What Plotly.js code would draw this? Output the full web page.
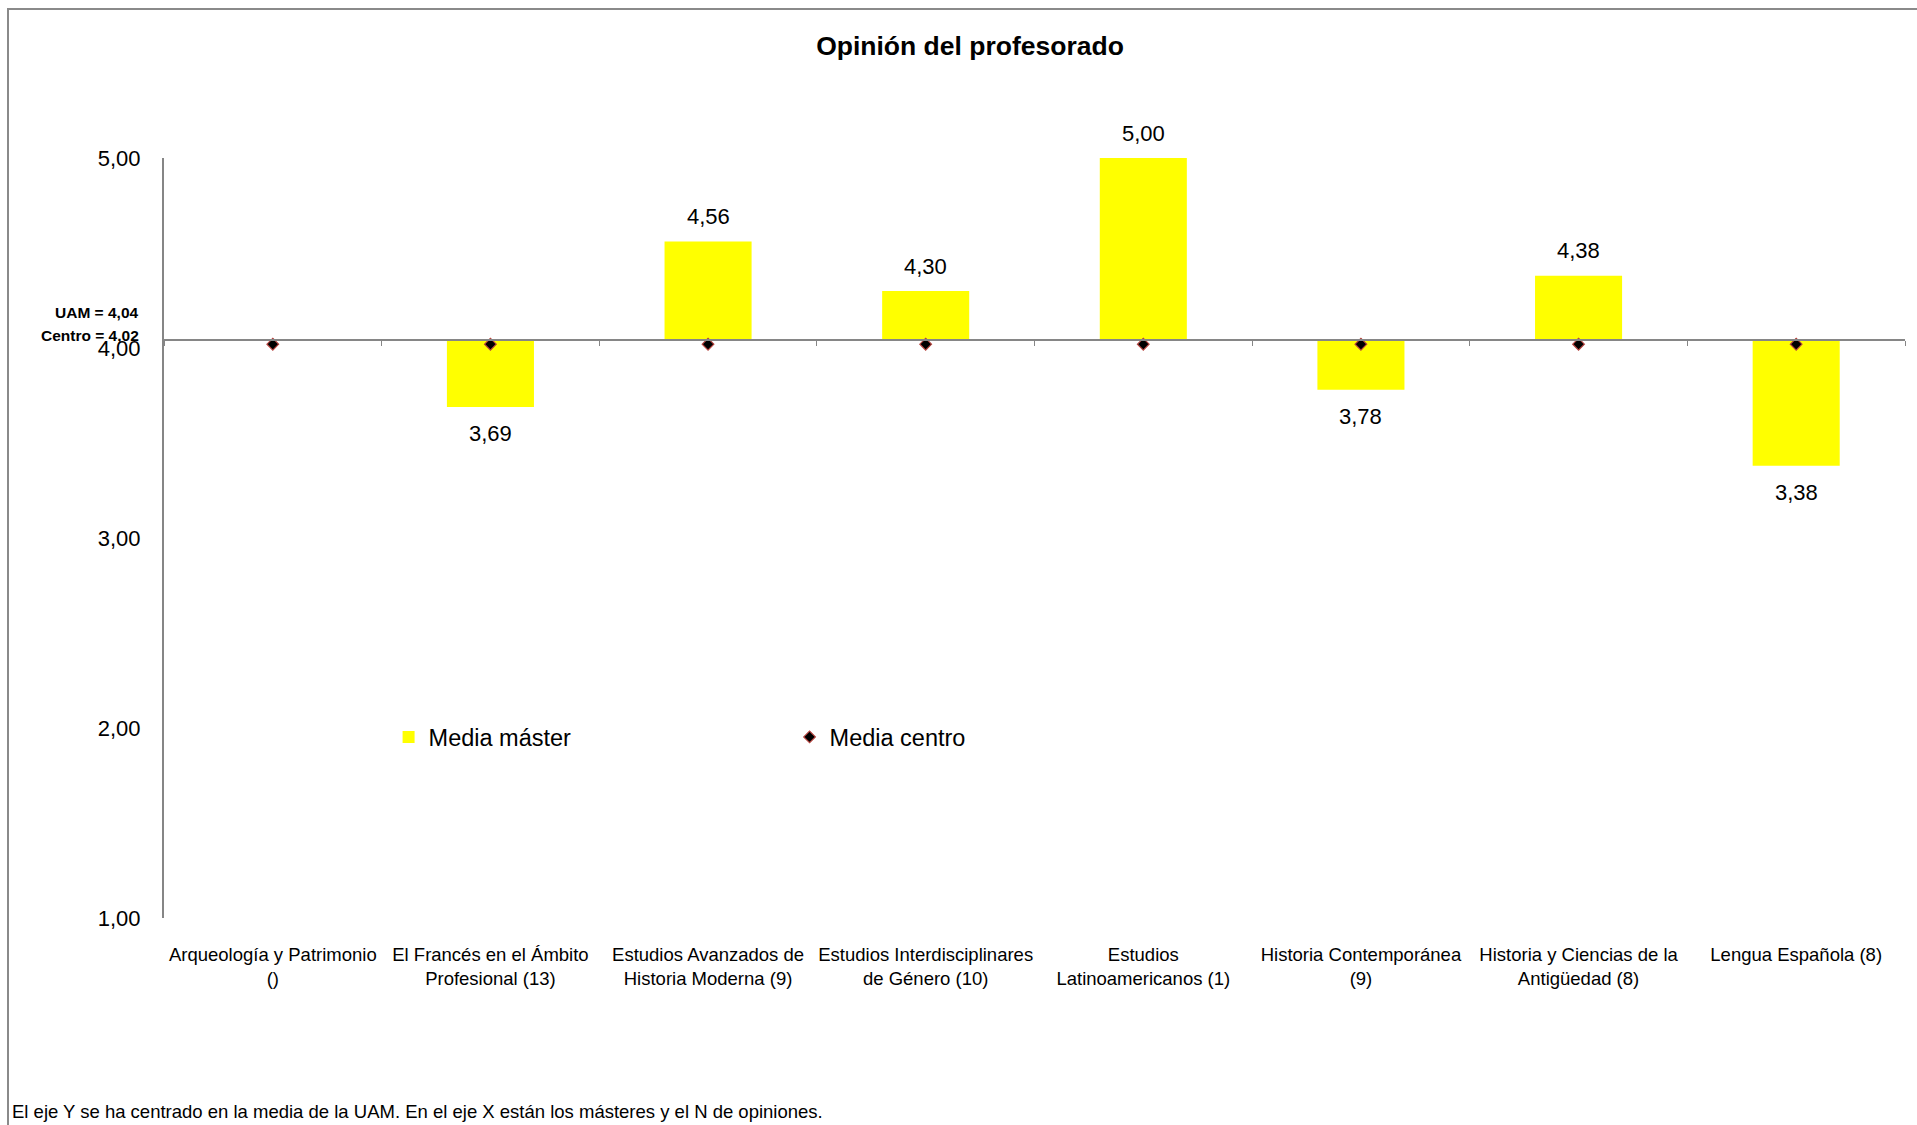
<!DOCTYPE html>
<html>
<head>
<meta charset="utf-8">
<script src="https://cdn.plot.ly/plotly-3.0.1.min.js"></script>
<style>
  html, body { margin: 0; padding: 0; background: #ffffff; overflow: hidden; }
  #chart { position: absolute; left: 0; top: 0; width: 1917px; height: 1125px; }
  #frame { position: absolute; left: 7px; top: 8px; width: 2000px; height: 2000px;
           border-top: 2px solid #8a8a8a; border-left: 2px solid #8a8a8a; pointer-events: none; }
</style>
</head>
<body>
<div id="chart"></div>
<div id="frame"></div>
<script>
// ---- data ----
const categories = [
  "Arqueología y Patrimonio ()",
  "El Francés en el Ámbito Profesional (13)",
  "Estudios Avanzados de Historia Moderna (9)",
  "Estudios Interdisciplinares de Género (10)",
  "Estudios Latinoamericanos (1)",
  "Historia Contemporánea (9)",
  "Historia y Ciencias de la Antigüedad (8)",
  "Lengua Española (8)"
];
const tickLabels = [
  "Arqueología y Patrimonio<br>()",
  "El Francés en el Ámbito<br>Profesional (13)",
  "Estudios Avanzados de<br>Historia Moderna (9)",
  "Estudios Interdisciplinares<br>de Género (10)",
  "Estudios<br>Latinoamericanos (1)",
  "Historia Contemporánea<br>(9)",
  "Historia y Ciencias de la<br>Antigüedad (8)",
  "Lengua Española (8)"
];
const mediaMaster = [null, 3.69, 4.56, 4.30, 5.00, 3.78, 4.38, 3.38];
const mediaCentro = [4.02, 4.02, 4.02, 4.02, 4.02, 4.02, 4.02, 4.02];
const mediaUAM = 4.04;
const centroMean = 4.02;
const yTickVals = [1, 2, 3, 4, 5];

const fmt = v => v.toFixed(2).replace('.', ',');
const FONT = "Liberation Sans, Arial, sans-serif";
const yMin = 1, yMax = 5;

const barTrace = {
  type: 'bar',
  name: 'Media máster',
  x: categories,
  y: mediaMaster.map(v => v === null ? null : v - mediaUAM),
  base: mediaMaster.map(v => v === null ? null : mediaUAM),
  marker: { color: '#ffff00', line: { width: 0 } },
  xaxis: 'x', yaxis: 'y',
  hoverinfo: 'skip'
};
const centroTrace = {
  type: 'scatter',
  mode: 'markers',
  name: 'Media centro',
  x: categories,
  y: mediaCentro,
  marker: { symbol: 'diamond', size: 9, color: '#000000', line: { color: '#b5433e', width: 1.2 } },
  xaxis: 'x2', yaxis: 'y',
  hoverinfo: 'skip'
};

const annotations = [];
mediaMaster.forEach((v, i) => {
  if (v === null) return;
  annotations.push({
    x: categories[i], y: v, xref: 'x', yref: 'y',
    text: fmt(v), showarrow: false,
    yshift: v >= mediaUAM ? 25 : -27,
    font: { family: FONT, size: 22, color: '#000000' }
  });
});
annotations.push({
  xref: 'paper', yref: 'paper', x: -0.013, y: 0.797, xanchor: 'right', yanchor: 'middle',
  text: '<b>UAM = ' + fmt(mediaUAM) + '</b>', showarrow: false,
  font: { family: FONT, size: 15.5, color: '#000000' }
});
annotations.push({
  xref: 'paper', yref: 'paper', x: -0.013, y: 0.767, xanchor: 'right', yanchor: 'middle',
  text: '<b>Centro = ' + fmt(centroMean) + '</b>', showarrow: false,
  font: { family: FONT, size: 15.5, color: '#000000' }
});
annotations.push({
  xref: 'paper', yref: 'paper', x: -0.0885, y: -0.255, xanchor: 'left', yanchor: 'middle',
  text: 'El eje Y se ha centrado en la media de la UAM. En el eje X están los másteres y el N de opiniones.',
  showarrow: false,
  font: { family: FONT, size: 18.5, color: '#000000' }
});

const layout = {
  width: 1917, height: 1125,
  margin: { l: 164, r: 12, t: 158, b: 207 },
  paper_bgcolor: '#ffffff', plot_bgcolor: '#ffffff',
  separators: ',.',
  font: { family: FONT, color: '#000000' },
  title: {
    text: '<b>Opinión del profesorado</b>',
    xref: 'container', yref: 'container', x: 0.506, y: 1 - 46 / 1125,
    xanchor: 'center', yanchor: 'middle',
    font: { family: FONT, size: 26.5, color: '#000000' }
  },
  bargap: 0.6,
  showlegend: true,
  legend: {
    orientation: 'h', x: 0.129, y: 0.238, xanchor: 'left', yanchor: 'middle',
    entrywidth: 356, entrywidthmode: 'pixels',
    font: { family: FONT, size: 23.5, color: '#000000' },
    bgcolor: 'rgba(0,0,0,0)', traceorder: 'normal'
  },
  xaxis: {
    type: 'category', range: [-0.5, 7.5],
    tickvals: categories, ticktext: tickLabels,
    showline: false, ticks: '', showgrid: false, zeroline: false,
    ticklabelstandoff: 23,
    tickfont: { family: FONT, size: 18.5, color: '#000000' },
    anchor: 'y', fixedrange: true
  },
  xaxis2: {
    type: 'category', range: [-0.5, 7.5], overlaying: 'x',
    anchor: 'free', position: (mediaUAM - yMin) / (yMax - yMin), side: 'bottom',
    showline: true, linecolor: '#868686', linewidth: 2,
    ticks: 'outside', tickson: 'boundaries', ticklen: 5, tickcolor: '#868686', tickwidth: 1,
    showticklabels: false, showgrid: false, zeroline: false, fixedrange: true
  },
  yaxis: {
    range: [yMin, yMax], tickvals: yTickVals, tickformat: '.2f',
    showline: true, linecolor: '#868686', linewidth: 2,
    ticks: '', showgrid: false, zeroline: false,
    ticklabelstandoff: 17,
    tickfont: { family: FONT, size: 22, color: '#000000' },
    fixedrange: true
  },
  annotations: annotations
};

Plotly.newPlot('chart', [barTrace, centroTrace], layout, { displayModeBar: false, staticPlot: true });
</script>
</body>
</html>
